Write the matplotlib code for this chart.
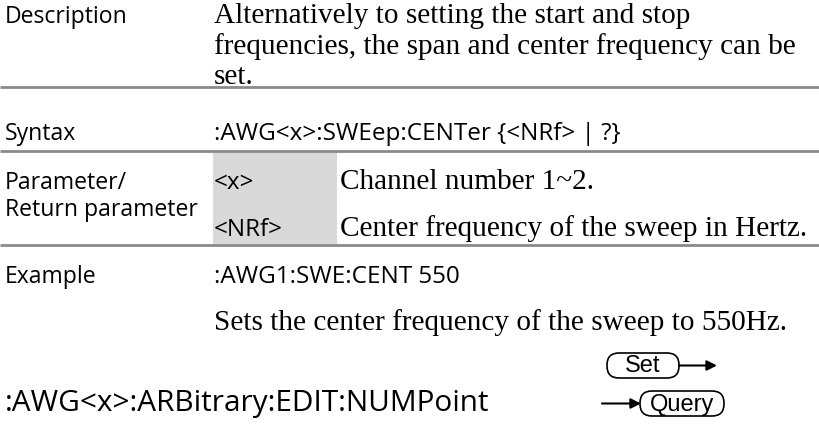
import matplotlib
matplotlib.use("Agg")
import matplotlib.pyplot as plt
from matplotlib.patches import FancyBboxPatch, Rectangle

W, H = 820, 425

# table content
row_labels = ["Description", "Syntax", "Parameter/\nReturn parameter", "Example"]
desc_lines = ["Alternatively to setting the start and stop",
              "frequencies, the span and center frequency can be",
              "set."]
syntax_text = ":AWG<x>:SWEep:CENTer {<NRf> | ?}"
param_names = ["<x>", "<NRf>"]
param_descs = ["Channel number 1~2.", "Center frequency of the sweep in Hertz."]
example_code = ":AWG1:SWE:CENT 550"
example_note = "Sets the center frequency of the sweep to 550Hz."
next_command = ":AWG<x>:ARBitrary:EDIT:NUMPoint"
badges = ["Set", "Query"]

SANS = "Open Sans"
SERIF = "Liberation Serif"
GRID = "#8a8a8a"
SHADE = "#d9d9d9"

fig = plt.figure(figsize=(W / 100, H / 100), dpi=100)
ax = fig.add_axes([0, 0, 1, 1])
ax.set_xlim(0, W)
ax.set_ylim(H, 0)
ax.axis("off")
renderer = fig.canvas.get_renderer()


def fit_size(s, family, width):
    # scale a font size so the string spans the wanted pixel width
    t = ax.text(0, 0, s, family=family, fontsize=10)
    w = t.get_window_extent(renderer).width
    t.remove()
    return 10 * width / w


serif_fs = fit_size(desc_lines[1], SERIF, 581)
label_fs = fit_size(row_labels[0], SANS, 123)
code_fs = fit_size(syntax_text, SANS, 408)
head_fs = fit_size(next_command, SANS, 485)

# shaded parameter-name column and rules
ax.add_patch(Rectangle((213, 152), 124, 92, color=SHADE, lw=0))
for y in (87, 151, 245):
    ax.plot([0, W], [y, y], color=GRID, lw=2, solid_capstyle="butt")

# Description row
ax.text(5, 23, row_labels[0], family=SANS, fontsize=label_fs, va="baseline")
for i, line in enumerate(desc_lines):
    ax.text(214, 23 + i * 30.5, line, family=SERIF, fontsize=serif_fs, va="baseline")

# Syntax row
ax.text(5, 140, row_labels[1], family=SANS, fontsize=label_fs, va="baseline")
ax.text(214, 140, syntax_text, family=SANS, fontsize=code_fs, va="baseline")

# Parameter row
first, second = row_labels[2].split("\n")
ax.text(5, 189, first, family=SANS, fontsize=label_fs, va="baseline")
ax.text(5, 216, second, family=SANS, fontsize=label_fs, va="baseline")
for y, name, desc in zip((189, 236), param_names, param_descs):
    ax.text(214, y, name, family=SANS, fontsize=code_fs, va="baseline")
    ax.text(340, y, desc, family=SERIF, fontsize=serif_fs, va="baseline")

# Example row
ax.text(5, 283, row_labels[3], family=SANS, fontsize=label_fs, va="baseline")
ax.text(214, 283, example_code, family=SANS, fontsize=code_fs, va="baseline")
ax.text(214, 330, example_note, family=SERIF, fontsize=serif_fs, va="baseline")

# next command heading
ax.text(5, 411, next_command, family=SANS, fontsize=head_fs, va="baseline")

# Set / Query badges
for (x0, y0, w, h), label in zip([(607, 353, 72, 25), (640, 391, 84, 25)], badges):
    ax.add_patch(FancyBboxPatch((x0, y0), w, h, boxstyle="round,pad=0,rounding_size=12",
                                fc="white", ec="black", lw=1.2))
    ax.text(x0 + w / 2, y0 + h / 2 + 1, label, family="Liberation Sans", fontsize=17,
            ha="center", va="center")
arrow = dict(arrowstyle="-|>", color="black", lw=1.5, mutation_scale=15, shrinkA=0, shrinkB=0)
ax.annotate("", xy=(717, 365.5), xytext=(679, 365.5), arrowprops=arrow)
ax.annotate("", xy=(641, 403.5), xytext=(602, 403.5), arrowprops=arrow)

fig.savefig("out.png", dpi=100, facecolor="white")
